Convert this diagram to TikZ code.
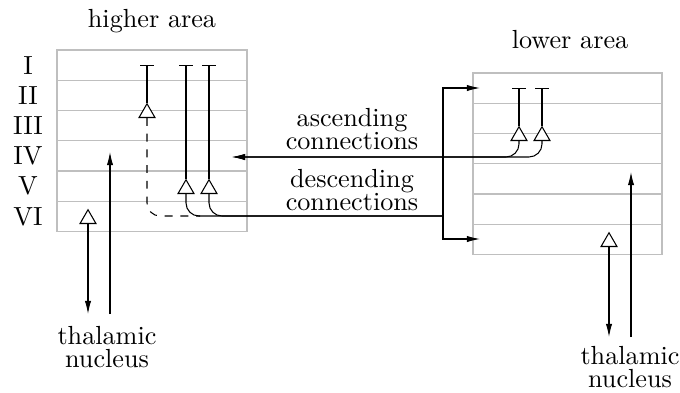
\documentclass[tikz,border=0pt]{standalone}
\usepackage{tikz}
\usetikzlibrary{arrows.meta,shapes.geometric}
\definecolor{layergray}{rgb}{0.75,0.75,0.75}

\begin{document}
\begin{tikzpicture}[x=0.382pt, y=-0.382pt,
    >={Latex[length=5pt,width=2.4pt]},
    layer/.style = {draw=layergray, line width=0.5pt},
    pyr/.style = {draw, fill=white, regular polygon, regular polygon sides=3,
                  minimum size=7pt, inner sep=0pt, anchor=south},
    apical/.style = {-{Bar[width=5pt]}},
    axon/.style = {rounded corners=5pt},
    lbl/.style = {align=center}
  ]
  \useasboundingbox (0,0) rectangle (680,392);

  % cortical layers of both areas
  \draw[layer] (57,50) rectangle (247,231.5);
  \draw[layer] (473,73) rectangle (662,254.5);
  \foreach \i in {1,...,5} {
    \draw[layer] (57,{50+30.25*\i}) -- (247,{50+30.25*\i});
    \draw[layer] (473,{73+30.25*\i}) -- (662,{73+30.25*\i});
  }
  \foreach \r [count=\i] in {I,II,III,IV,V,VI}
    \node (r\i) at (28,{50+30.25*(\i-0.5)}) {\r};

  \node[anchor=base] (higher) at (152,27) {higher area};
  \node[anchor=base] (lower) at (570,48) {lower area};

  % higher area
  \coordinate (topL) at (0,65);
  \node[pyr] (n1) at (147,118) {};
  \node[pyr] (n2) at (186,194) {};
  \node[pyr] (n3) at (209,194) {};
  \node[pyr] (n4) at (88,224) {};
  \draw[apical] (n1.north) -- (n1.north |- topL);
  \draw[apical] (n2.north) -- (n2.north |- topL);
  \draw[apical] (n3.north) -- (n3.north |- topL);

  % lower area
  \coordinate (topR) at (0,88);
  \node[pyr] (m1) at (519,141) {};
  \node[pyr] (m2) at (542,141) {};
  \node[pyr] (m3) at (609,247) {};
  \draw[apical] (m1.north) -- (m1.north |- topR);
  \draw[apical] (m2.north) -- (m2.north |- topR);

  % descending
  \coordinate (desc) at (443,216);
  \coordinate (merge) at (200,216);
  \coordinate (inI) at (480,88);
  \coordinate (inVI) at (480,239);
  \draw[axon] (n2.south) |- (desc);
  \draw[axon] (n3.south) |- (desc);
  \draw[axon, dashed] (n1.south) |- (merge);
  \draw[->] (desc) |- (inI);
  \draw[->] (desc) |- (inVI);

  % ascending
  \coordinate (asc) at (232,157);
  \draw[->, axon] (m1.south) |- (asc);
  \draw[->, axon] (m2.south) |- (asc);

  \node[lbl] (ascl) at (352,129) {ascending\\[-3pt]connections};
  \node[lbl] (descl) at (352,190) {descending\\[-3pt]connections};

  % thalamus
  \node[lbl] (thalL) at (107,347) {thalamic\\[-3pt]nucleus};
  \node[lbl] (thalR) at (630,367) {thalamic\\[-3pt]nucleus};
  \coordinate (outL) at (0,314);
  \coordinate (outR) at (0,337);
  \coordinate (inIVL) at (110,152);
  \coordinate (inIVR) at (631,172);
  \draw[->] (n4.south) -- (n4.south |- outL);
  \draw[->] (inIVL |- outL) -- (inIVL);
  \draw[->] (m3.south) -- (m3.south |- outR);
  \draw[->] (inIVR |- outR) -- (inIVR);
\end{tikzpicture}
\end{document}
